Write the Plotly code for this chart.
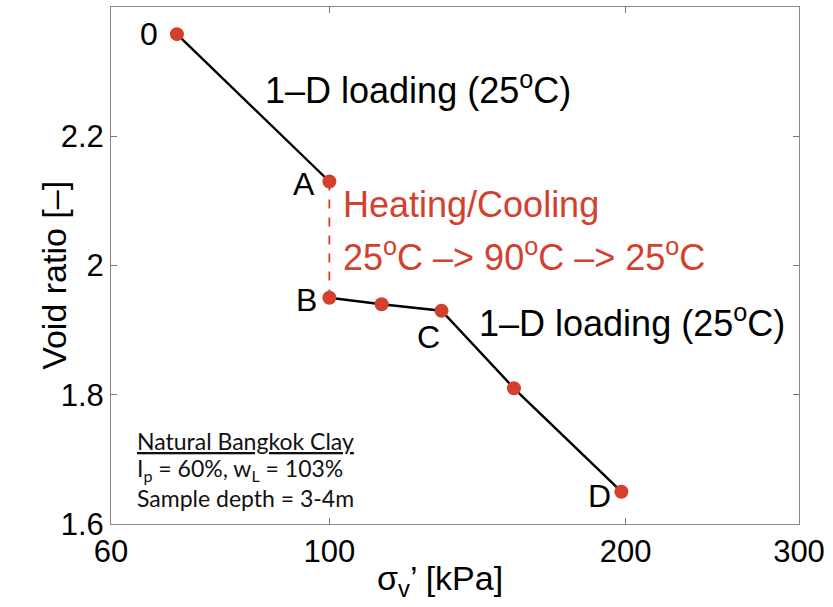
import math
import plotly.graph_objects as go

# Data
sigma_v = [70, 100, 100, 113, 130, 154, 198]        # kPa
void_ratio = [2.358, 2.13, 1.95, 1.94, 1.93, 1.81, 1.65]
point_labels = ["0", "A", "B", "", "C", "", "D"]
x_ticks = [60, 100, 200, 300]
y_ticks = [1.6, 1.8, 2.0, 2.2]

RED = "#d4402e"
FONT = "Liberation Sans, Arial, Helvetica, sans-serif"

fig = go.Figure()

# 1-D loading (0 -> A)
fig.add_trace(go.Scatter(x=sigma_v[0:2], y=void_ratio[0:2], mode="lines",
                         line=dict(color="black", width=2.4), showlegend=False))
# Heating/cooling (A -> B)
fig.add_trace(go.Scatter(x=sigma_v[1:3], y=void_ratio[1:3], mode="lines",
                         line=dict(color=RED, width=1.8, dash="dash"), showlegend=False))
# 1-D loading (B -> D)
fig.add_trace(go.Scatter(x=sigma_v[2:], y=void_ratio[2:], mode="lines",
                         line=dict(color="black", width=2.4), showlegend=False))
# markers
fig.add_trace(go.Scatter(x=sigma_v, y=void_ratio, mode="markers",
                         marker=dict(color=RED, size=14, line=dict(width=0)),
                         showlegend=False))

# point labels
shifts = {"0": (-28, 0), "A": (-25, -3), "B": (-23, -2), "C": (-13, -26), "D": (-22, -4)}
for xv, yv, lab in zip(sigma_v, void_ratio, point_labels):
    if not lab:
        continue
    dx, dy = shifts[lab]
    fig.add_annotation(x=math.log10(xv), y=yv, text=lab, showarrow=False,
                       xshift=dx, yshift=dy, font=dict(family=FONT, size=32, color="black"))

# text labels
fig.add_annotation(x=math.log10(85.6), y=2.274, text="1\u2013D loading (25<sup>o</sup>C)",
                   showarrow=False, xanchor="left", yanchor="middle",
                   font=dict(family=FONT, size=36, color="black"))
fig.add_annotation(x=math.log10(141.3), y=1.914, text="1\u2013D loading (25<sup>o</sup>C)",
                   showarrow=False, xanchor="left", yanchor="middle",
                   font=dict(family=FONT, size=36, color="black"))
fig.add_annotation(x=math.log10(102.7), y=2.094, text="Heating/Cooling",
                   showarrow=False, xanchor="left", yanchor="middle",
                   font=dict(family=FONT, size=36, color=RED))
fig.add_annotation(x=math.log10(102.7), y=2.017,
                   text="25<sup>o</sup>C \u2013> 90<sup>o</sup>C \u2013> 25<sup>o</sup>C",
                   showarrow=False, xanchor="left", yanchor="middle",
                   font=dict(family=FONT, size=36, color=RED))

# info box
info_lines = ["<u>Natural Bangkok Clay</u>",
              "I<sub>p</sub> = 60%, w<sub>L</sub> = 103%",
              "Sample depth = 3-4m"]
info_y = [1.728, 1.684, 1.641]
for t, yv in zip(info_lines, info_y):
    fig.add_annotation(x=math.log10(63.5), y=yv, text=t, showarrow=False,
                       xanchor="left", yanchor="middle",
                       font=dict(family="Lato", size=23, color="#111111"))

# axis titles
fig.add_annotation(xref="paper", yref="paper", x=0, y=0.48, xshift=-78,
                   text="Void ratio [\u2013]", textangle=-90, showarrow=False,
                   font=dict(family=FONT, size=34, color="black"))
fig.add_annotation(xref="paper", yref="paper", x=0.478, y=0, yshift=-80,
                   text="\u03c3<sub>v</sub>\u2019 [kPa]", showarrow=False,
                   font=dict(family=FONT, size=34, color="black"))

fig.update_xaxes(type="log", range=[math.log10(60), math.log10(300)],
                 tickvals=x_ticks, ticktext=[str(v) for v in x_ticks],
                 ticks="inside", ticklen=6, tickcolor="#777", tickwidth=1,
                 showline=True, linecolor="#888", linewidth=1, mirror="ticks",
                 showgrid=False, zeroline=False,
                 tickfont=dict(family=FONT, size=31, color="black"))
fig.update_yaxes(range=[1.6, 2.4], tickvals=y_ticks,
                 ticktext=["1.6", "1.8", "2", "2.2"],
                 ticks="inside", ticklen=6, tickcolor="#777", tickwidth=1,
                 showline=True, linecolor="#888", linewidth=1, mirror="ticks",
                 showgrid=False, zeroline=False,
                 tickfont=dict(family=FONT, size=31, color="black"))

fig.update_layout(width=833, height=607, margin=dict(l=111, r=34, t=7, b=83),
                  plot_bgcolor="white", paper_bgcolor="white")

fig.write_html("out.html")
